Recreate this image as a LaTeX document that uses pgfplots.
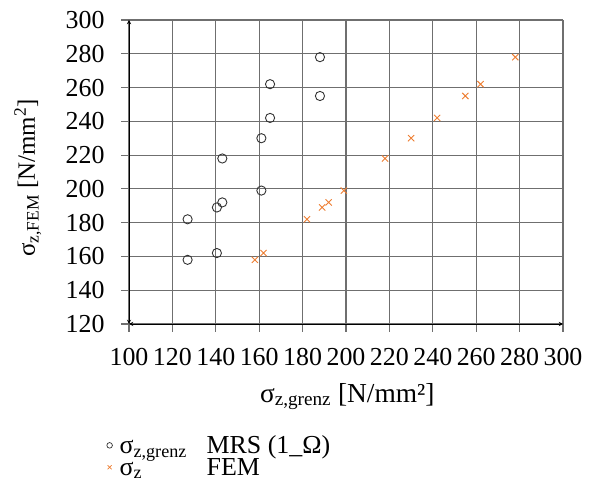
\documentclass[border=0pt]{standalone}
\usepackage{pgfplots}
\pgfplotsset{compat=1.18}
\usepackage{fontspec}
\setmainfont{Liberation Serif}
\definecolor{fem}{HTML}{ED7D31}
\definecolor{gridc}{HTML}{6F6F6F}
\newcommand{\bigf}{\fontsize{26}{30}\selectfont}
\begin{document}
\begin{tikzpicture}[x=1bp,y=1bp]
\useasboundingbox (0,0) rectangle (593,487);
\begin{axis}[
  at={(129bp,163bp)}, anchor=south west,
  scale only axis, width=434bp, height=304bp,
  xmin=100, xmax=300, ymin=120, ymax=300,
  xtick={100,120,...,300}, ytick={120,140,...,300},
  axis x line*=bottom, axis y line*=left,
  x axis line style={black, line width=0.9bp, stealth-stealth},
  y axis line style={black, line width=0.9bp, stealth-stealth},
  grid=major,
  major grid style={gridc, line width=1.2bp},
  tick align=outside,
  major tick length=8bp,
  tick style={gridc, line width=1.2bp},
  /pgf/number format/assume math mode=true,
  /pgf/number format/1000 sep={},
  ticklabel style={font=\bigf},
  xticklabel style={yshift=-13bp},
  yticklabel style={xshift=-13bp},
  xlabel={σ\textsubscript{z,grenz} [N/mm²]},
  ylabel={σ\textsubscript{z,FEM} [N/mm\textsuperscript{2}]},
  every axis x label/.style={at={(axis description cs:0.503,-0.257)}, anchor=base, font=\fontsize{27.5}{32}\selectfont},
  every axis y label/.style={at={(axis description cs:-0.233,0.48)}, rotate=90, anchor=center, font=\fontsize{25}{30}\selectfont},
  legend style={at={(axis description cs:-0.052,-0.36)}, anchor=north west,
    draw=none, fill=none, font=\bigf, row sep=-1bp, inner sep=0pt},
  legend cell align=left,
  legend image code/.code={\draw[#1, mark size=2.8bp, line width=0.7bp] plot coordinates {(0bp,0bp)}; \path[draw=none] (-3bp,0bp) -- (8bp,0bp);},
]
\addplot[only marks, mark=o, mark size=4.6bp, draw=black!80, line width=0.9bp]
coordinates {(127,158)(127,182)(140.5,162)(140.5,189)(143,192)(143,218)(161,199)(161,230)(165,242)(165,262)(188,255)(188,278)};
\addlegendentry{\makebox[87bp][l]{σ\textsubscript{z,grenz}}MRS (1\_Ω)}
\addplot[only marks, mark=x, mark size=4.4bp, draw=fem, line width=0.9bp]
coordinates {(158,158)(162,162)(182,182)(189,189)(192,192)(199,199)(218,218)(230,230)(242,242)(255,255)(262,262)(278,278)};
\addlegendentry{\makebox[87bp][l]{σ\textsubscript{z}}FEM}
\end{axis}
\end{tikzpicture}
\end{document}
